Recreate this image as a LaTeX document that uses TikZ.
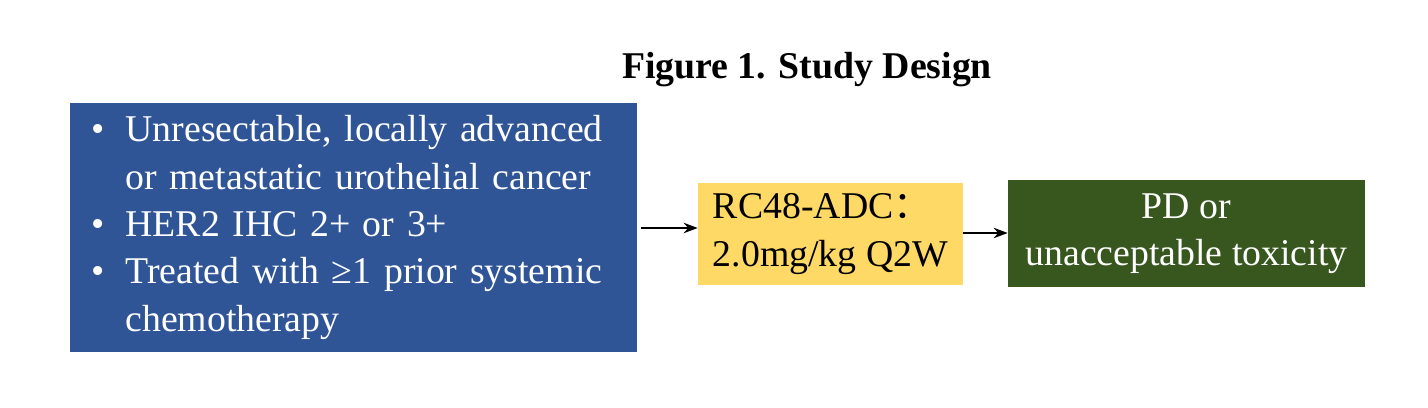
\documentclass[tikz,border=0pt]{standalone}
\usepackage{fontspec}
\setmainfont{Liberation Serif}
\newfontfamily\cjk{Noto Sans CJK SC}
\usetikzlibrary{arrows.meta,positioning}
\definecolor{boxblue}{HTML}{2F5597}
\definecolor{boxyellow}{HTML}{FFD966}
\definecolor{boxgreen}{HTML}{38571F}
\newcommand{\bul}{\makebox[0.74cm][l]{\hspace{0.05cm}•}}
\newcommand{\ind}{\hspace{0.74cm}}
\begin{document}
\begin{tikzpicture}[
    every node/.style={font=\fontsize{21.5}{27}\selectfont},
    box/.style={minimum height=2.05cm, inner sep=0pt},
    arrow/.style={-{Stealth[length=8pt,width=6pt]}, thick}
  ]
  \useasboundingbox (0,0) rectangle (28.56,8.14);

  \node[box, fill=boxblue, text=white, minimum width=11.34cm, minimum height=4.98cm,
        text width=10.6cm, align=left] (crit) at (7.07,3.59)
    {\hyphenpenalty=10000 \bul Unresectable, locally advanced\\
     \ind or metastatic urothelial cancer\\
     \bul HER2 IHC 2+ or 3+\\
     \bul Treated with \char"2265 1 prior systemic\\
     \ind chemotherapy};
  \node[box, fill=boxyellow, minimum width=5.3cm, align=left] (drug) at (16.61,3.46)
    {RC48-ADC{\cjk ：}\\2.0mg/kg Q2W};
  \node[box, fill=boxgreen, text=white, minimum width=7.14cm, minimum height=2.14cm, align=center] (stop) at (23.73,3.47)
    {PD or\\unacceptable toxicity};
  \node[font=\fontsize{21.5}{26}\selectfont\bfseries] (title) at (16.14,6.74) {Figure 1. Study Design};

  \draw[arrow] ([xshift=2pt]crit.east |- 0,3.58) -- (drug.west |- 0,3.58);
  \draw[arrow] (drug.east |- 0,3.48) -- (stop.west |- 0,3.48);
\end{tikzpicture}
\end{document}
